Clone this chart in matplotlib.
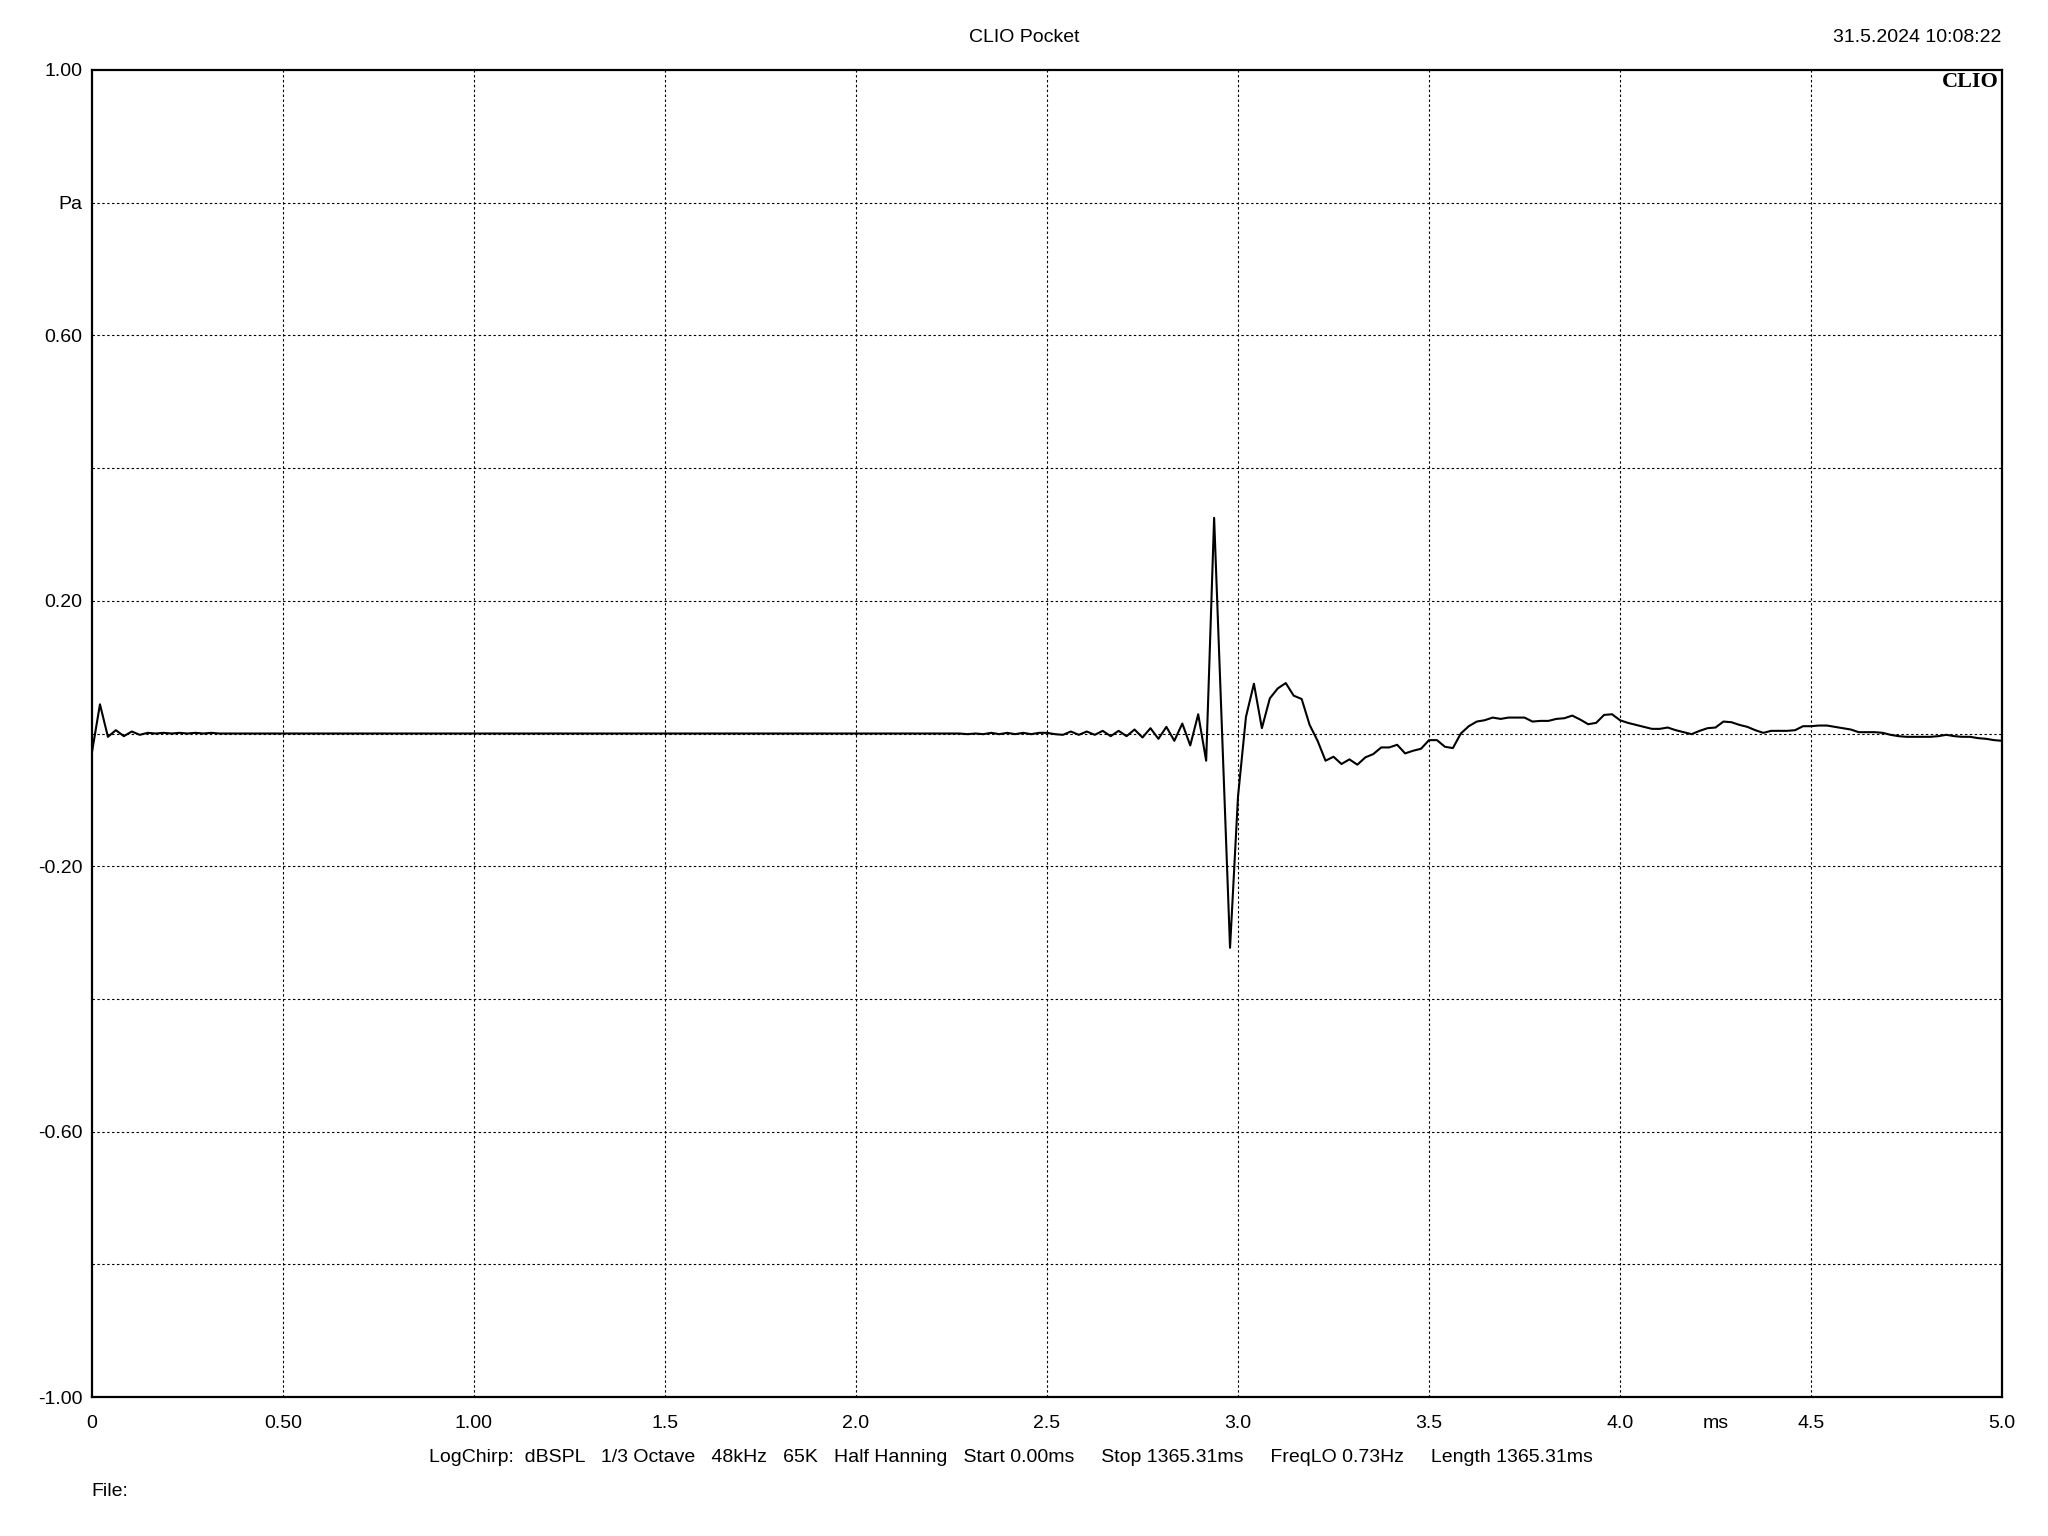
import numpy as np
import matplotlib
matplotlib.use("Agg")
import matplotlib.pyplot as plt

plt.rcParams['font.family'] = ['Liberation Sans', 'DejaVu Sans']

# impulse response samples (Pa), 48 kHz, 0..5 ms
p_onset = [-0.028, 0.044, -0.005, 0.005, -0.004, 0.003, -0.002, 0.001,
           0.000, 0.001, 0.000, 0.001, 0.000, 0.001, 0.000, 0.001, 0.000]
p_quiet = [0.0, 0.0, 0.0, 0.0, 0.0, 0.0, 0.0, 0.0, 0.0, 0.0, 0.0, 0.0,
           0.0, 0.0, 0.0, 0.0, 0.0, 0.0, 0.0, 0.0, 0.0, 0.0, 0.0, 0.0,
           0.0, 0.0, 0.0, 0.0, 0.0, 0.0, 0.0, 0.0, 0.0, 0.0, 0.0, 0.0,
           0.0, 0.0, 0.0, 0.0, 0.0, 0.0, 0.0, 0.0, 0.0, 0.0, 0.0, 0.0,
           0.0, 0.0, 0.0, 0.0, 0.0, 0.0, 0.0, 0.0, 0.0, 0.0, 0.0, 0.0,
           0.0, 0.0, 0.0, 0.0, 0.0, 0.0, 0.0, 0.0, 0.0, 0.0, 0.0, 0.0,
           0.0, 0.0, 0.0, 0.0, 0.0, 0.0, 0.0, 0.0, 0.0, 0.0, 0.0, 0.0,
           0.0, 0.0, 0.0, 0.0, 0.0, 0.0, 0.0, 0.0, 0.0]
p_pre = [-0.001, 0.000, -0.001, 0.001, -0.001, 0.001, -0.001, 0.001, -0.001, 0.001,
         0.001, -0.001, -0.002, 0.003, -0.002, 0.003, -0.002, 0.004, -0.004, 0.004,
         -0.004, 0.006, -0.006, 0.008, -0.008, 0.010, -0.011, 0.015, -0.018, 0.029,
         -0.041]
p_main = [0.325, 0.000, -0.323, -0.095, 0.025, 0.075, 0.008, 0.053, 0.068, 0.076,
          0.057, 0.052, 0.013, -0.011, -0.041, -0.035, -0.046, -0.039, -0.047, -0.036,
          -0.031, -0.021, -0.021, -0.017, -0.030, -0.026, -0.023, -0.010, -0.010, -0.020,
          -0.022, 0.000]
p_tail = [0.011, 0.018, 0.020, 0.024, 0.022, 0.024, 0.024, 0.024, 0.018, 0.019,
          0.019, 0.022, 0.023, 0.027, 0.021, 0.014, 0.016, 0.028, 0.029, 0.020,
          0.016, 0.013, 0.010, 0.007, 0.007, 0.009, 0.005, 0.002, -0.001, 0.004,
          0.008, 0.009, 0.018, 0.017, 0.013, 0.010, 0.005, 0.001, 0.004, 0.004,
          0.004, 0.005, 0.011, 0.011, 0.012, 0.012, 0.010, 0.008, 0.006, 0.002,
          0.002, 0.002, 0.001, -0.002, -0.004, -0.005, -0.005, -0.005, -0.005, -0.004,
          -0.002, -0.004, -0.005, -0.005, -0.007, -0.008, -0.010, -0.011]

pressure = np.array(p_onset + p_quiet + p_pre + p_main + p_tail)
fs_khz = 48.0
time_ms = np.arange(len(pressure)) / fs_khz

x_grid = [0.5, 1.0, 1.5, 2.0, 2.5, 3.0, 3.5, 4.0, 4.5]
y_grid = [-0.8, -0.6, -0.4, -0.2, 0.0, 0.2, 0.4, 0.6, 0.8]
x_ticks = [0, 0.5, 1.0, 1.5, 2.0, 2.5, 3.0, 3.5, 4.0, 4.25, 4.5, 5.0]
x_labels = ['0', '0.50', '1.00', '1.5', '2.0', '2.5', '3.0', '3.5', '4.0', 'ms', '4.5', '5.0']
y_ticks = [1.0, 0.8, 0.6, 0.2, -0.2, -0.6, -1.0]
y_labels = ['1.00', 'Pa', '0.60', '0.20', '-0.20', '-0.60', '-1.00']

fig = plt.figure(figsize=(20.48, 15.36), dpi=100)
ax = fig.add_axes([92 / 2048, 1 - 1397 / 1536, (2002 - 92) / 2048, (1397 - 70) / 1536])

for gx in x_grid:
    ax.axvline(gx, color='black', lw=0.8, ls=(0, (2.2, 2.2)), zorder=1)
for gy in y_grid:
    ax.axhline(gy, color='black', lw=0.8, ls=(0, (2.2, 2.2)), zorder=1)

ax.plot(time_ms, pressure, color='black', lw=1.5, zorder=3)

ax.set_xlim(0, 5)
ax.set_ylim(-1, 1)
ax.set_xticks(x_ticks)
ax.set_xticklabels(x_labels)
ax.set_yticks(y_ticks)
ax.set_yticklabels(y_labels)
ax.tick_params(axis='both', length=0, labelsize=14)
ax.tick_params(axis='x', pad=13)
ax.tick_params(axis='y', pad=7)
for s in ax.spines.values():
    s.set_linewidth(1.6)

ax.text(0.9985, 0.9985, 'CLIO', transform=ax.transAxes, ha='right', va='top',
        fontsize=16, fontweight='bold', family='Liberation Serif')

fig.text(1024 / 2048, 1 - 38 / 1536, 'CLIO Pocket', ha='center', va='center', fontsize=14)
fig.text(2001 / 2048, 1 - 38 / 1536, '31.5.2024 10:08:22', ha='right', va='center', fontsize=14)
fig.text(1011 / 2048, 1 - 1458 / 1536,
         'LogChirp:  dBSPL   1/3 Octave   48kHz   65K   Half Hanning   Start 0.00ms     '
         'Stop 1365.31ms     FreqLO 0.73Hz     Length 1365.31ms',
         ha='center', va='center', fontsize=14)
fig.text(91 / 2048, 1 - 1492 / 1536, 'File:', ha='left', va='center', fontsize=14)

fig.savefig('out.png', dpi=100, facecolor='white')
